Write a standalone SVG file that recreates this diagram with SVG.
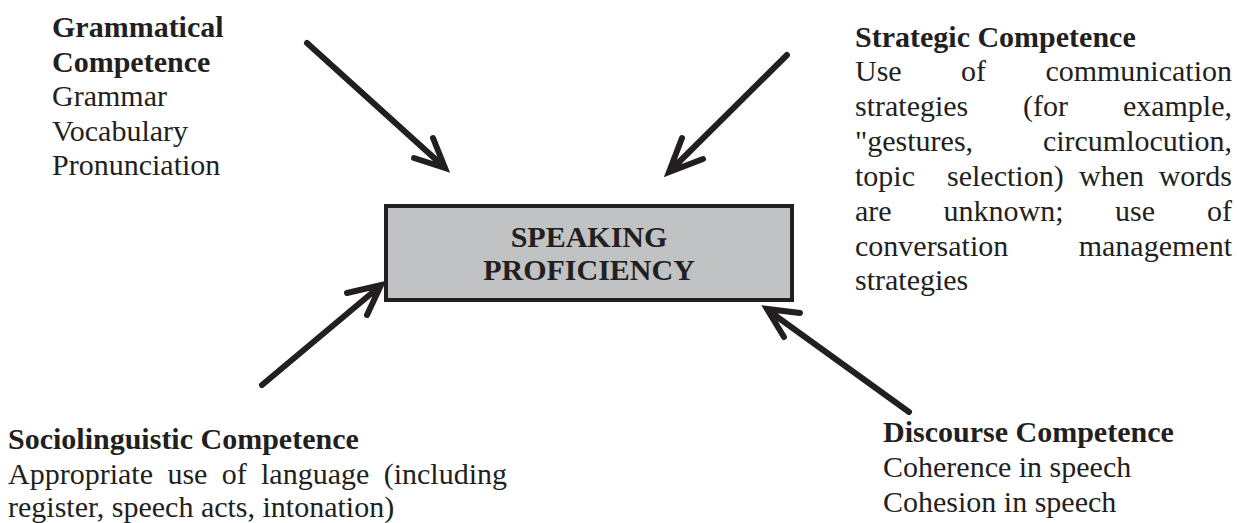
<svg xmlns="http://www.w3.org/2000/svg" width="1237" height="523" viewBox="0 0 1237 523">
<style>
  text { font-family: "Liberation Serif", "Times New Roman", serif; font-size: 30px; fill: #231f20; }
  .b { font-weight: bold; }
  .e { text-anchor: end; }
  .m { text-anchor: middle; }
  .arrow { fill: none; stroke: #231f20; stroke-width: 6; stroke-linecap: round; stroke-linejoin: miter; }
</style>
<rect width="1237" height="523" fill="#ffffff"/>

<g id="connectors">
  <path class="arrow" d="M307,43 L443,166 M414,158 L445,168 L433,138"/>
  <path class="arrow" d="M787,55 L671,170 M703,159 L669,172 L682,138"/>
  <path class="arrow" d="M262,385 L379,287 M347,293 L381,285 L367,315"/>
  <path class="arrow" d="M909,412 L769,311 M800,313 L767,309 L784,337"/>
</g>

<g id="speaking-proficiency">
  <rect x="386" y="206" width="406" height="94" fill="#c1c2c4" stroke="#231f20" stroke-width="4"/>
  <text class="b m" x="589" y="247">SPEAKING</text>
  <text class="b m" x="589" y="280">PROFICIENCY</text>
</g>

<g id="grammatical-competence">
  <text class="b" x="52" y="37">Grammatical</text>
  <text class="b" x="52" y="71.5">Competence</text>
  <text x="52" y="106">Grammar</text>
  <text x="52" y="140.5">Vocabulary</text>
  <text x="52" y="175">Pronunciation</text>
</g>

<g id="strategic-competence">
  <text class="b" x="855" y="46.5">Strategic Competence</text>
  <text x="855" y="81">Use</text><text x="961" y="81">of</text><text class="e" x="1232" y="81">communication</text>
  <text x="855" y="116">strategies</text><text x="1023" y="116">(for</text><text class="e" x="1232" y="116">example,</text>
  <text x="855" y="151">"gestures,</text><text class="e" x="1232" y="151">circumlocution,</text>
  <text x="855" y="186">topic</text><text x="947" y="186">selection)</text><text x="1079" y="186">when</text><text class="e" x="1232" y="186">words</text>
  <text x="855" y="220.5">are</text><text x="943.5" y="220.5">unknown;</text><text x="1115" y="220.5">use</text><text class="e" x="1232" y="220.5">of</text>
  <text x="855" y="255.5">conversation</text><text class="e" x="1232" y="255.5">management</text>
  <text x="855" y="290">strategies</text>
</g>

<g id="sociolinguistic-competence">
  <text class="b" x="8" y="449">Sociolinguistic Competence</text>
  <text x="8" y="484">Appropriate</text><text x="167.4" y="484">use</text><text x="221.7" y="484">of</text><text x="261" y="484">language</text><text class="e" x="507" y="484">(including</text>
  <text x="8" y="517">register, speech acts, intonation)</text>
</g>

<g id="discourse-competence">
  <text class="b" x="883" y="442">Discourse Competence</text>
  <text x="883" y="477">Coherence in speech</text>
  <text x="883" y="511.5">Cohesion in speech</text>
</g>
</svg>
